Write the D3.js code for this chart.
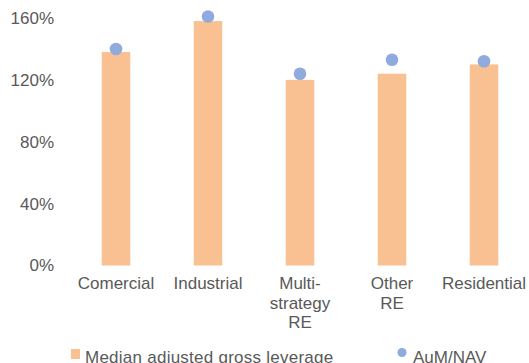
<!DOCTYPE html>
<html>
<head>
<meta charset="utf-8">
<script src="https://cdn.jsdelivr.net/npm/d3@7"></script>
<style>
  html, body { margin: 0; padding: 0; background: #fff; }
  svg { display: block; font-family: "Liberation Sans", Arial, sans-serif; }
</style>
</head>
<body>
<svg id="chart" width="529" height="363"></svg>
<script>
const categories = ["Comercial", "Industrial", "Multi-\nstrategy\nRE", "Other\nRE", "Residential"];
const leverage = [138, 158, 120, 124, 130];
const aumNav = [140, 161, 124, 133, 132];
const yTicks = [0, 40, 80, 120, 160];
const seriesNames = ["Median adjusted gross leverage", "AuM/NAV"];

const barColor = "#F9C191";
const dotColor = "#8FAADC";
const textColor = "#595959";

const svg = d3.select("#chart");

const x = d3.scaleBand().domain(categories).range([70, 530]).paddingInner(0.69).paddingOuter(0.345);
const y = d3.scaleLinear().domain([0, 160]).range([265.5, 18]);

// y axis
const yAxis = svg.append("g")
  .attr("transform", "translate(54,0)")
  .call(d3.axisLeft(y).tickValues(yTicks).tickSize(0).tickPadding(0).tickFormat(d => d + "%"));
yAxis.select(".domain").remove();
yAxis.selectAll("text")
  .attr("fill", textColor)
  .attr("font-size", 17)
  .attr("font-family", "'Liberation Sans', Arial, sans-serif");

// bars
svg.append("g").selectAll("rect")
  .data(categories)
  .join("rect")
  .attr("x", d => x(d))
  .attr("width", x.bandwidth())
  .attr("y", (d, i) => y(leverage[i]))
  .attr("height", (d, i) => y(0) - y(leverage[i]))
  .attr("fill", barColor);

// dots
svg.append("g").selectAll("circle")
  .data(categories)
  .join("circle")
  .attr("cx", d => x(d) + x.bandwidth() / 2)
  .attr("cy", (d, i) => y(aumNav[i]))
  .attr("r", 6.3)
  .attr("fill", dotColor);

// x labels
const xl = svg.append("g");
categories.forEach(c => {
  const lines = c.split("\n");
  const t = xl.append("text")
    .attr("text-anchor", "middle")
    .attr("fill", textColor)
    .attr("font-size", 17);
  lines.forEach((ln, j) => {
    t.append("tspan")
      .attr("x", x(c) + x.bandwidth() / 2)
      .attr("y", 289 + j * 19.5)
      .text(ln);
  });
});

// legend
const lg = svg.append("g");
lg.append("rect").attr("x", 71).attr("y", 349).attr("width", 9).attr("height", 10).attr("fill", barColor);
lg.append("text").attr("x", 85).attr("y", 362.5).attr("fill", textColor).attr("font-size", 17)
  .attr("letter-spacing", 0.25).text(seriesNames[0]);
lg.append("circle").attr("cx", 402).attr("cy", 352.5).attr("r", 4.5).attr("fill", dotColor);
lg.append("text").attr("x", 413).attr("y", 362.5).attr("fill", textColor).attr("font-size", 17).text(seriesNames[1]);
</script>
</body>
</html>
